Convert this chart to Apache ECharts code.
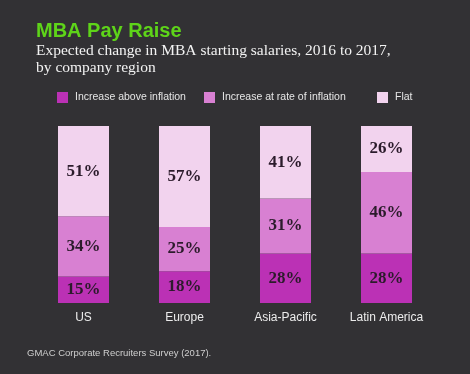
<!DOCTYPE html>
<html><head><meta charset="utf-8">
<script src="https://cdn.jsdelivr.net/npm/echarts@6/dist/echarts.min.js"></script>
<style>html,body{margin:0;padding:0;background:#323134;}#c{width:470px;height:374px;}</style>
</head><body><div id="c"></div>
<script>
const categories = ['US', 'Europe', 'Asia-Pacific', 'Latin America'];
const seriesNames = ['Increase above inflation', 'Increase at rate of inflation', 'Flat'];
const aboveInflation = [15, 18, 28, 28];
const atInflation = [34, 25, 31, 46];
const flat = [51, 57, 41, 26];
const colors = ['#bb31b5', '#d880d2', '#f2d3ee'];
const values = [aboveInflation, atInflation, flat];

const chart = echarts.init(document.getElementById('c'));
const legendPos = [57, 204, 377];
chart.setOption({
  backgroundColor: '#323134',
  animation: false,
  title: [
    { text: 'MBA Pay Raise', left: 31, top: 16,
      textStyle: { color: '#5ed419', fontSize: 20, fontWeight: 'bold', fontFamily: 'Liberation Sans' } },
    { text: 'Expected change in MBA starting salaries, 2016 to 2017,\nby company region', left: 31, top: 37,
      textStyle: { color: '#f2f2f2', fontSize: 15.5, fontWeight: 'normal', fontFamily: 'Liberation Serif', lineHeight: 17 } },
    { text: 'GMAC Corporate Recruiters Survey (2017).', left: 22, top: 343,
      textStyle: { color: '#cfcfcf', fontSize: 9.5, fontWeight: 'normal', fontFamily: 'Liberation Sans' } }
  ],
  legend: seriesNames.map((n, i) => ({
    data: [n], left: legendPos[i], top: 92, itemWidth: 11, itemHeight: 11, itemGap: 6,
    icon: 'rect', textStyle: { color: '#e6e6e6', fontSize: 10.5, fontFamily: 'Liberation Sans', padding: [0, 0, 0, 2] },
    padding: 0
  })),
  grid: { left: 33, right: 33, top: 126, bottom: 71 },
  xAxis: {
    type: 'category', data: categories,
    axisLine: { show: false }, axisTick: { show: false },
    axisLabel: { color: '#ececec', fontSize: 12, fontFamily: 'Liberation Sans', margin: 9 }
  },
  yAxis: { type: 'value', min: 0, max: 100, show: false, splitLine: { show: false } },
  series: seriesNames.map((n, i) => ({
    name: n, type: 'bar', stack: 'all', barWidth: 51,
    data: values[i],
    itemStyle: { color: colors[i] },
    label: { show: true, position: 'inside', formatter: '{c}%', color: '#2b1b2b',
      fontSize: 17, fontWeight: 'bold', fontFamily: 'Liberation Serif' }
  }))
});
</script></body></html>
